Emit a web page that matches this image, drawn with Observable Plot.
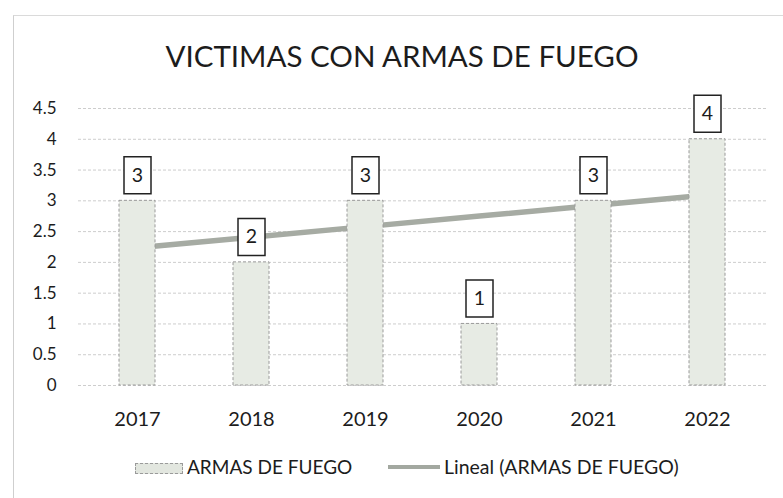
<!DOCTYPE html>
<html><head><meta charset="utf-8">
<script src="https://cdn.jsdelivr.net/npm/d3@7"></script>
<script src="https://cdn.jsdelivr.net/npm/@observablehq/plot@0.6"></script>
<style>
html,body{margin:0;padding:0;background:#fff;}
#wrap{position:relative;width:783px;height:498px;overflow:hidden;font-family:Lato,"Open Sans",sans-serif;color:#1c1c1c;background:#fff;}
#frame{position:absolute;left:13px;top:15px;width:800px;height:520px;border-left:1.5px solid #cfcfcf;border-top:1.5px solid #dadada;}
#title{position:absolute;left:0;width:804px;top:40.8px;text-align:center;font-size:29.5px;line-height:29.5px;white-space:nowrap;}
#chart{position:absolute;left:0;top:80px;}
.lt{position:absolute;top:457px;font-size:19px;line-height:19px;white-space:nowrap;}
#sw1{position:absolute;left:135px;top:463px;width:46px;height:9px;background:#e2e6df;border:1px dashed #9a9a9a;}
#sw2{position:absolute;left:388px;top:465px;width:52px;height:4px;background:#a3a8a0;}
</style>
</head><body>
<div id="wrap">
  <div id="frame"></div>
  <div id="title">VICTIMAS CON ARMAS DE FUEGO</div>
  <div id="chart"></div>
  <div id="sw1"></div><div class="lt" style="left:187px">ARMAS DE FUEGO</div>
  <div id="sw2"></div><div class="lt" style="left:444px;font-size:19.5px">Lineal (ARMAS DE FUEGO)</div>
</div>
<script>
const years = ["2017", "2018", "2019", "2020", "2021", "2022"];
const values = [3, 2, 3, 1, 3, 4];
const yTicks = [0, 0.5, 1, 1.5, 2, 2.5, 3, 3.5, 4, 4.5];

const data = years.map((y, i) => ({year: y, value: values[i]}));

// Excel-style linear trendline (least squares over index 1..n)
const xs = values.map((_, i) => i + 1);
const mx = d3.mean(xs), my = d3.mean(values);
const slope = d3.sum(xs, (x, i) => (x - mx) * (values[i] - my)) / d3.sum(xs, x => (x - mx) ** 2);
const intercept = my - slope * mx;
const trendData = years.map((y, i) => ({year: y, v: intercept + slope * xs[i]}));

const boxSymbol = {draw(ctx) { ctx.moveTo(-13.5, -18.5); ctx.lineTo(13.5, -18.5); ctx.lineTo(13.5, 18.5); ctx.lineTo(-13.5, 18.5); ctx.closePath(); }};

const svg = Plot.plot({
  width: 783, height: 360,
  marginTop: 28, marginBottom: 55, marginLeft: 78, marginRight: 17,
  x: {type: "band", domain: years, paddingInner: 0.686, paddingOuter: 0.343, tickSize: 0, tickPadding: 26, label: null},
  y: {domain: [0, 4.5], ticks: yTicks, tickSize: 0, tickPadding: 22, label: null, tickFormat: d => String(d)},
  style: {fontFamily: "Lato, 'Open Sans', sans-serif", fontSize: "17px", color: "#1c1c1c", background: "transparent"},
  marks: [
    Plot.ruleY(yTicks, {stroke: "#cdcdcd", strokeWidth: 1, strokeDasharray: "3,2"}),
    Plot.line(trendData, {x: "year", y: "v", stroke: "#a6aba3", strokeWidth: 5.5}),
    Plot.barY(data, {x: "year", y: "value", fill: "#e7ebe4", stroke: "#9a9a9a", strokeWidth: 1, strokeDasharray: "3,2"}),
    Plot.dot(data, {x: "year", y: "value", symbol: boxSymbol, r: 10, fill: "#fff", stroke: "#222", strokeWidth: 1.5, dy: -25.5}),
    Plot.text(data, {x: "year", y: "value", text: d => String(d.value), dy: -25.5, fontSize: 19.5, fill: "#1c1c1c"})
  ]
});
svg.querySelectorAll('g[aria-label^="x-axis"] text').forEach(t => t.style.fontSize = "20px");
document.getElementById("chart").appendChild(svg);
</script>
</body></html>
